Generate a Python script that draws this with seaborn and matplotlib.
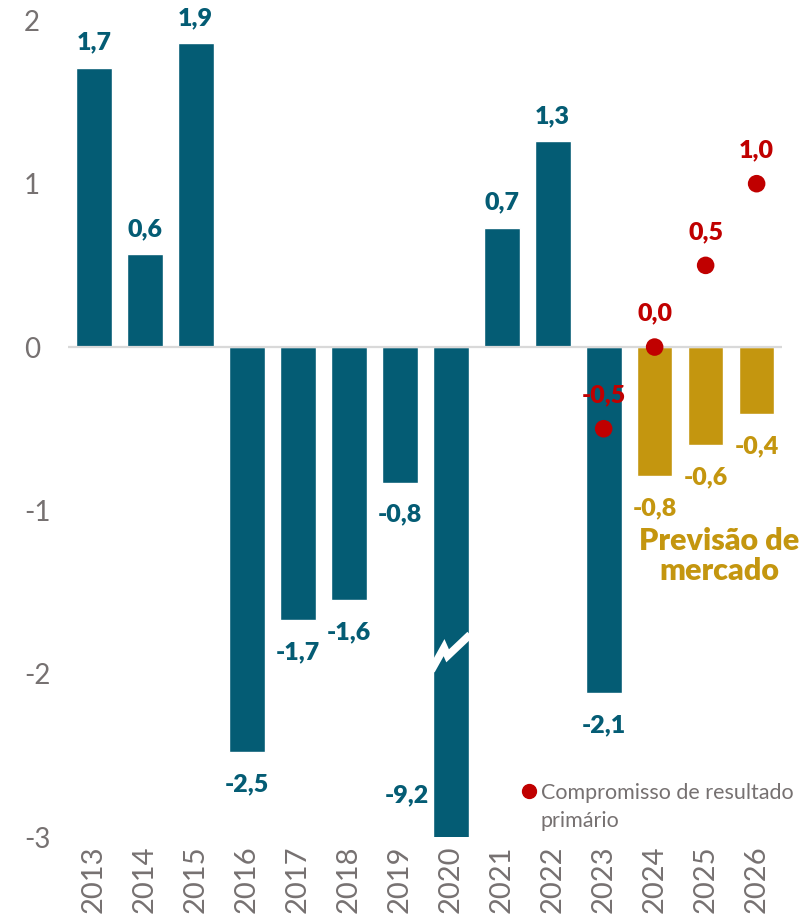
import matplotlib
matplotlib.use("Agg")
import matplotlib.pyplot as plt
from matplotlib.lines import Line2D
import seaborn as sns
import pandas as pd

# Primary result of the public sector, % of GDP
years = [2013, 2014, 2015, 2016, 2017, 2018, 2019, 2020, 2021, 2022, 2023, 2024, 2025, 2026]
primary_result = [1.71, 0.57, 1.86, -2.48, -1.67, -1.55, -0.83, -9.2, 0.73, 1.26, -2.12, -0.79, -0.6, -0.41]
source = ["Realizado"] * 11 + ["Previsão"] * 3

# Primary result target (commitment)
target_years = [2023, 2024, 2025, 2026]
target_values = [-0.5, 0.0, 0.5, 1.0]

TEAL = "#045C74"
GOLD = "#C4960F"
RED = "#C00000"
GRAY = "#767171"

sns.set_theme(style="white")
plt.rcParams["font.family"] = ["Lato", "DejaVu Sans"]

df = pd.DataFrame({"ano": [str(y) for y in years], "valor": primary_result, "fonte": source})

fig = plt.figure(figsize=(8.03, 9.24), dpi=100)
ax = fig.add_axes([0.085, 0.094, 0.889, 0.884])

sns.barplot(data=df, x="ano", y="valor", hue="fonte", dodge=False, width=0.7,
            palette={"Realizado": TEAL, "Previsão": GOLD}, legend=False, ax=ax,
            saturation=1)

ax.set_ylim(-3, 2)
ax.set_xlim(-0.5, 13.5)
ax.axhline(0, color="#d9d9d9", lw=1.6, zorder=1)

# Axis break on the 2020 bar, which runs far beyond the axis range
i20 = years.index(2020)
brk = -1.87
ax.plot([i20 - 0.38, i20 - 0.13, i20 - 0.06, i20 + 0.38],
        [brk - 0.11, brk + 0.03, brk - 0.02, brk + 0.11],
        color="white", lw=5.5, solid_capstyle="butt", solid_joinstyle="miter",
        zorder=5, clip_on=False)

LABEL_SIZE = 18

# value labels
for i, (v, s) in enumerate(zip(primary_result, source)):
    color = TEAL if s == "Realizado" else GOLD
    txt = f"{v:.1f}".replace(".", ",")
    if years[i] == 2020:
        ax.annotate(txt, xy=(i - 0.85, -3), xytext=(0, 30), textcoords="offset points",
                    ha="center", va="center", fontsize=LABEL_SIZE, fontweight="heavy", color=color)
    elif v >= 0:
        ax.annotate(txt, xy=(i, v), xytext=(0, 18), textcoords="offset points",
                    ha="center", va="center", fontsize=LABEL_SIZE, fontweight="heavy", color=color)
    else:
        ax.annotate(txt, xy=(i, v), xytext=(0, -23), textcoords="offset points",
                    ha="center", va="center", fontsize=LABEL_SIZE, fontweight="heavy", color=color)

# commitment points
tx = [years.index(y) for y in target_years]
sns.scatterplot(x=tx, y=target_values, color=RED, s=160, edgecolor="none", zorder=6, ax=ax)
for x, v in zip(tx, target_values):
    txt = f"{v:.1f}".replace(".", ",")
    ax.annotate(txt, xy=(x, v), xytext=(0, 24), textcoords="offset points",
                ha="center", va="center", fontsize=LABEL_SIZE, fontweight="heavy", color=RED, zorder=7)

ax.text(12.27, -1.28, "Previsão de\nmercado", ha="center", va="center",
        fontsize=22, fontweight="heavy", color=GOLD, linespacing=1.1)

# axes styling
for sp in ax.spines.values():
    sp.set_visible(False)
ax.set_xlabel("")
ax.set_ylabel("")
ax.set_yticks([-3, -2, -1, 0, 1, 2])
ax.set_yticklabels(["-3", "-2", "-1", "0", "1", "2"])
ax.tick_params(axis="y", length=0, labelsize=20, labelcolor=GRAY, pad=32)
ax.tick_params(axis="x", length=0, labelsize=21, labelcolor=GRAY, rotation=90, pad=6)
for lab in ax.get_yticklabels():
    lab.set_horizontalalignment("left")

# legend
handle = Line2D([], [], marker="o", linestyle="none", markersize=10,
                markerfacecolor=RED, markeredgecolor=RED)
leg = ax.legend([handle], ["Compromisso de resultado"], loc="upper left",
                bbox_to_anchor=(0.618, 0.077), frameon=False, fontsize=15.5,
                handletextpad=0.05, handlelength=1.0, borderaxespad=0,
                labelcolor=GRAY)
fig.canvas.draw()
bb = leg.get_texts()[0].get_window_extent()
inv = fig.transFigure.inverted()
x0, y0 = inv.transform((bb.x0, bb.y0))
fig.text(x0, y0 - 0.009, "primário", ha="left", va="top", fontsize=15.5, color=GRAY)

fig.savefig("out.png", dpi=100)
